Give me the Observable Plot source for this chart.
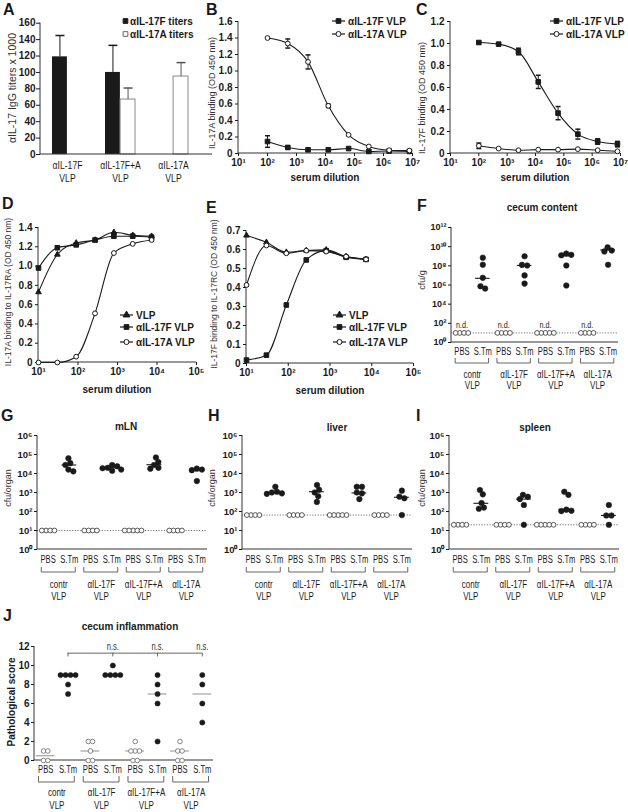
<!DOCTYPE html>
<html>
<head>
<meta charset="utf-8">
<script src="https://cdn.jsdelivr.net/npm/d3@7"></script>
<script src="https://cdn.jsdelivr.net/npm/@observablehq/plot@0.6"></script>
<style>
  body { margin: 0; background: #fff; }
  #root { position: relative; width: 628px; height: 812px; overflow: hidden; font-family: 'Liberation Sans', Arial, sans-serif; color: #1a1a1a; }
  .panel { position: absolute; }
  .panel svg { overflow: visible; }
  .lbl { position: absolute; white-space: nowrap; line-height: 1; }
  .letter { font-weight: bold; font-size: 16px; }
  .title { font-weight: bold; font-size: 10px; transform: translate(-50%, -50%); }
  .ylab { font-size: 9px; color: #333; transform: translate(-50%, -50%) rotate(-90deg); }
</style>
</head>
<body>
<div id="root"></div>
<script>
// ---------------- DATA ----------------
// A: anti-IL-17 IgG titers (x1000)
const titerGroups = ["αIL-17F", "αIL-17F+A", "αIL-17A"];
const titerSeries = ["αIL-17F titers", "αIL-17A titers"];
const titerF = [119, 100, null];
const titerFerr = [26, 33, null];
const titerA = [null, 67, 95];
const titerAerr = [null, 14, 17];

// B, C: ELISA binding vs serum dilution
const elisaDilution = [100, 500, 2500, 12500, 62500, 312500, 1562500, 7812500];
const elisaSeries = ["αIL-17F VLP", "αIL-17A VLP"];
const il17aBindF = [0.145, 0.073, 0.045, 0.045, 0.06, 0.025, 0.03, 0.025];
const il17aBindFerr = [0.07, 0.02, 0.01, 0.01, 0.01, 0.01, 0.01, 0.01];
const il17aBindA = [1.40, 1.333, 1.11, 0.578, 0.226, 0.085, 0.04, 0.035];
const il17aBindAerr = [0.01, 0.055, 0.085, 0.02, 0.01, 0.01, 0.01, 0.01];
const il17fBindF = [1.009, 0.994, 0.927, 0.651, 0.367, 0.176, 0.109, 0.085];
const il17fBindFerr = [0.01, 0.01, 0.03, 0.06, 0.06, 0.045, 0.025, 0.025];
const il17fBindA = [0.07, 0.045, 0.03, 0.035, 0.035, 0.04, 0.03, 0.02];
const il17fBindAerr = [0.025, 0.01, 0.01, 0.005, 0.005, 0.01, 0.005, 0.005];

// D, E: receptor-binding inhibition vs serum dilution
const inhibDilution = [10, 30, 90, 270, 810, 2430, 7290];
const inhibSeries = ["VLP", "αIL-17F VLP", "αIL-17A VLP"];
const raVLP = [0.73, 1.12, 1.24, 1.27, 1.35, 1.32, 1.31];
const raF = [0.98, 1.19, 1.22, 1.27, 1.31, 1.31, 1.30];
const raA = [0.0, 0.0, 0.06, 0.51, 1.135, 1.23, 1.27];
const rcVLP = [0.674, 0.638, 0.586, 0.595, 0.598, 0.563, 0.548];
const rcF = [0.018, 0.044, 0.308, 0.545, 0.594, 0.559, 0.548];
const rcA = [0.413, 0.621, 0.58, 0.594, 0.589, 0.563, 0.548];

// F-J: infection experiments
const vlpGroups = ["contr", "αIL-17F", "αIL-17F+A", "αIL-17A"];
const vlpSuffix = "VLP";
const treatments = ["PBS", "S.Tm"];

// F cecum content (cfu/g); PBS not detected (plotted at detection limit)
const cecumLimit = 10;
const cecumPBS = [[10, 10, 10, 10], [10, 10, 10, 10], [10, 10, 10, 10, 10], [10, 10, 10, 10]];
const cecumSTm = [[7.1e8, 1.3e8, 5.6e6, 7.4e5, 4.3e5], [1e9, 1.25e8, 1.1e8, 1e7, 1.4e6], [1.9e9, 1.4e9, 1.25e9, 1.1e8, 9e5], [8.5e9, 4e9, 3.2e9, 1.3e8]];
const cecumMed = [5e6, 1.1e8, 1.1e9, 4.5e9];

// G mLN (cfu/organ)
const mlnLimit = 10;
const mlnPBS = [[10, 10, 10, 10], [10, 10, 10, 10], [10, 10, 10, 10, 10], [10, 10, 10, 10]];
const mlnSTm = [[6.3e4, 3.5e4, 2.8e4, 1.6e4, 1.3e4], [2.8e4, 2.4e4, 2e4, 1.9e4, 1.6e4, 1.4e4], [7e4, 4e4, 2.8e4, 2e4, 1.8e4], [1.8e4, 1.6e4, 1.5e4, 4e3]];
const mlnMed = [2.8e4, 2e4, 2.9e4, 1.5e4];

// H liver (cfu/organ)
const liverLimit = 65;
const liverPBS = [[65, 65, 65, 65], [65, 65, 65, 65], [65, 65, 65, 65, 65], [65, 65, 65, 65]];
const liverSTm = [[2000, 1100, 1000, 900, 850], [2500, 1400, 1000, 630, 320], [2000, 2000, 1000, 900, 450], [1250, 600, 500, 65]];
const liverMed = [950, 1100, 950, 560];

// I spleen (cfu/organ)
const spleenLimit = 20;
const spleenPBS = [[20, 20, 20, 20], [20, 20, 20, 20], [20, 20, 20, 20, 20], [20, 20, 20, 20]];
const spleenSTm = [[1350, 800, 280, 160, 140], [750, 600, 450, 220, 20], [1100, 750, 125, 110, 105], [220, 62, 62, 20]];
const spleenMed = [270, 450, 130, 62];

// J cecum inflammation (pathological score)
const scorePBS = [[1, 1, 0, 0], [2, 2, 1, 0, 0], [2, 1, 1, 1, 0, 0], [2, 1, 1, 0, 0]];
const scorePBSMed = [0.5, 1, 1, 1];
const scoreSTm = [[9, 9, 9, 9, 8, 7], [10, 9, 9, 9, 9], [9, 8, 7, 6, 2], [9, 8, 6, 4]];
const scoreSTmMed = [9, 9, 7, 7];
const sigRefGroup = "contr";
const sigCompared = ["αIL-17F", "αIL-17F+A", "αIL-17A"];
const sigLabels = ["n.s.", "n.s.", "n.s."];
const sigLevel = 11.3;

// ---------------- STYLE / HELPERS ----------------
const FONT = "'Liberation Sans', Arial, sans-serif";
const INK = "#1a1a1a";
const AX = "#333";
const baseStyle = {fontFamily: FONT, fontSize: "10px", background: "transparent", overflow: "visible", color: INK};
const SUP = "⁰¹²³⁴⁵⁶⁷⁸⁹";
const pow10 = d => "10" + String(Math.round(Math.log10(d))).split("").map(c => SUP[+c]).join("");
const dec1 = d => (Math.abs(d) < 1e-9 ? "0" : d.toFixed(1));
const capSymbol = {draw(ctx, size) { const w = Math.sqrt(size / Math.PI); ctx.moveTo(-w, 0); ctx.lineTo(w, 0); }};

const root = document.getElementById("root");

function place(svg, lay) {
  const d = document.createElement("div");
  d.className = "panel";
  d.style.left = lay.left + "px";
  d.style.top = lay.top + "px";
  d.appendChild(svg);
  root.appendChild(d);
}
// horizontally condense labels whose text is in `words` (the figure uses a condensed face)
function condense(svg, words, f) {
  const set = new Set(words);
  svg.querySelectorAll("text").forEach(el => {
    if (el.querySelector("tspan") || !set.has(el.textContent)) return;
    const len = el.getComputedTextLength();
    if (len > 0) {
      el.setAttribute("textLength", (len * f).toFixed(2));
      el.setAttribute("lengthAdjust", "spacingAndGlyphs");
    }
  });
}
function label(txt, x, y, cls, extra) {
  const d = document.createElement("div");
  d.className = "lbl " + cls;
  d.textContent = txt;
  d.style.left = x + "px";
  d.style.top = y + "px";
  if (extra) Object.assign(d.style, extra);
  root.appendChild(d);
}

// L-shaped axis lines along the frame's left and bottom edges
const axisLines = (index, scales, values, dims) => {
  const {width, height, marginLeft, marginRight, marginTop, marginBottom} = dims;
  const g = d3.create("svg:g").attr("fill", "none").attr("stroke", AX).attr("stroke-width", 1);
  g.append("path").attr("d", `M${marginLeft},${marginTop}V${height - marginBottom}H${width - marginRight}`);
  return g.node();
};

const symbolTypes = {square: d3.symbolSquare, circle: d3.symbolCircle, triangle: d3.symbolTriangle};
function legendMark(entries, x0, ys, withLine) {
  return () => {
    const g = d3.create("svg:g").attr("font-family", FONT).attr("font-size", 10).attr("font-weight", "bold").attr("text-anchor", "start");
    entries.forEach((e, k) => {
      const y = ys[k];
      const sx = withLine ? x0 + 6.5 : x0 + 2.5;
      if (withLine) g.append("line").attr("x1", x0).attr("x2", x0 + 13).attr("y1", y).attr("y2", y).attr("stroke", INK).attr("stroke-width", 1.2);
      const size = e.symbol === "square" ? 22 : 20;
      g.append("path").attr("transform", `translate(${sx},${y})`)
        .attr("d", d3.symbol(symbolTypes[e.symbol], size)())
        .attr("fill", e.fill).attr("stroke", e.stroke).attr("stroke-width", 1);
      g.append("text").attr("x", withLine ? x0 + 16 : x0 + 7).attr("y", y).attr("dy", "0.36em").attr("text-anchor", "start").attr("fill", INK).text(e.label);
    });
    return g.node();
  };
}

// ---------------- LAYOUT ----------------
const LAY = {
  A: {left: 0, top: 0, width: 215, height: 190, mL: 40, mR: 3, mT: 22.7, mB: 36},
  B: {left: 205, top: 0, width: 215, height: 190, mL: 33, mR: 8, mT: 21, mB: 37},
  C: {left: 415, top: 0, width: 213, height: 190, mL: 35, mR: 8, mT: 21, mB: 37},
  D: {left: 0, top: 190, width: 210, height: 210, mL: 38, mR: 14, mT: 37, mB: 38},
  E: {left: 205, top: 190, width: 215, height: 210, mL: 41, mR: 7, mT: 40, mB: 37},
  F: {left: 415, top: 195, width: 213, height: 205, mL: 36, mR: 10, mT: 32, mB: 58},
  G: {left: 0, top: 400, width: 215, height: 205, mL: 37, mR: 8, mT: 35, mB: 56},
  H: {left: 205, top: 400, width: 215, height: 205, mL: 37, mR: 8, mT: 35, mB: 56},
  I: {left: 415, top: 400, width: 213, height: 205, mL: 34, mR: 9, mT: 35, mB: 56},
  J: {left: 0, top: 600, width: 320, height: 212, mL: 34, mR: 107, mT: 46, mB: 52}
};
const dimsOf = lay => ({width: lay.width, height: lay.height, marginLeft: lay.mL, marginRight: lay.mR, marginTop: lay.mT, marginBottom: lay.mB});

// ---------------- PANEL A ----------------
(function () {
  const lay = LAY.A;
  const rowsF = titerGroups.map((g, i) => ({group: g, value: titerF[i], err: titerFerr[i]})).filter(d => d.value != null);
  const rowsA = titerGroups.map((g, i) => ({group: g, value: titerA[i], err: titerAerr[i]})).filter(d => d.value != null);
  const half = 15.1, off = 7.55;
  const svg = Plot.plot({
    ...dimsOf(lay), style: baseStyle,
    x: {domain: titerGroups, paddingInner: 0.43, paddingOuter: 0.3375, align: 0.335, axis: null},
    y: {domain: [0, 160]},
    marks: [
      Plot.barY(rowsF, {x: "group", y: "value", fill: INK, insetRight: half}),
      Plot.barY(rowsA, {x: "group", y: "value", fill: "white", stroke: "#888", strokeWidth: 1, insetLeft: half}),
      Plot.ruleX(rowsF, {x: "group", y1: "value", y2: d => d.value + d.err, dx: -off, stroke: INK}),
      Plot.dot(rowsF, {x: "group", y: d => d.value + d.err, dx: -off, symbol: capSymbol, r: 4.5, stroke: INK, fill: "none"}),
      Plot.ruleX(rowsA, {x: "group", y1: "value", y2: d => d.value + d.err, dx: off, stroke: "#555"}),
      Plot.dot(rowsA, {x: "group", y: d => d.value + d.err, dx: off, symbol: capSymbol, r: 4.5, stroke: "#555", fill: "none"}),
      axisLines,
      Plot.axisY({ticks: d3.range(0, 161, 20), tickSize: 4, tickPadding: 1, fontWeight: "bold", fontSize: 10, label: null}),
      Plot.text(titerGroups, {x: d => d, text: d => d, frameAnchor: "bottom", lineAnchor: "middle", dy: 11, fontSize: 10, fill: INK}),
      Plot.text(titerGroups, {x: d => d, text: () => vlpSuffix, frameAnchor: "bottom", lineAnchor: "middle", dy: 24, fontSize: 10, fill: INK}),
      legendMark([
        {label: titerSeries[0], symbol: "square", fill: INK, stroke: INK},
        {label: titerSeries[1], symbol: "square", fill: "white", stroke: "#666"}
      ], 123, [21, 34], false)
    ]
  });
  place(svg, lay);
  condense(svg, [...titerGroups, vlpSuffix], 0.86);
})();

// ---------------- CURVE PANELS (B-E) ----------------
function curvePanel(lay, o) {
  const rows = [];
  o.series.forEach(s => s.y.forEach((v, i) => rows.push({name: s.name, x: o.xs[i], y: v, err: s.err ? s.err[i] : 0})));
  const errRows = rows.filter(d => d.err > 0.012);
  const marks = [
    axisLines,
    Plot.axisX({ticks: o.xTicks, tickFormat: pow10, tickSize: 3, tickPadding: 2, fontWeight: "bold", fontSize: 10, label: null}),
    Plot.axisY({ticks: o.yTicks, tickFormat: dec1, tickSize: 3, tickPadding: 3, fontWeight: "bold", fontSize: 10, label: null}),
    Plot.ruleX(errRows, {x: "x", y1: d => d.y - d.err, y2: d => d.y + d.err, stroke: INK}),
    Plot.dot(errRows, {x: "x", y: d => d.y + d.err, symbol: capSymbol, r: 2.5, stroke: INK, fill: "none"}),
    Plot.dot(errRows, {x: "x", y: d => d.y - d.err, symbol: capSymbol, r: 2.5, stroke: INK, fill: "none"}),
    Plot.line(rows, {x: "x", y: "y", z: "name", curve: "monotone-x", stroke: INK, strokeWidth: 1.1})
  ];
  o.series.forEach(s => {
    marks.push(Plot.dot(rows.filter(d => d.name === s.name), {
      x: "x", y: "y", symbol: s.symbol, r: s.symbol === "square" ? 2.6 : s.symbol === "triangle" ? 2.1 : 2.4,
      fill: s.fill, stroke: INK, strokeWidth: 1
    }));
  });
  marks.push(legendMark(o.series.map(s => ({label: s.name, symbol: s.symbol, fill: s.fill, stroke: INK})), o.legX, o.legY, true));
  const svg = Plot.plot({
    ...dimsOf(lay), style: baseStyle,
    x: {type: "log", domain: o.xDomain},
    y: {domain: o.yDomain},
    marks
  });
  place(svg, lay);
}
const elisaTicks = [10, 100, 1e3, 1e4, 1e5, 1e6, 1e7];
curvePanel(LAY.B, {
  xs: elisaDilution, xDomain: [10, 1e7], xTicks: elisaTicks, yDomain: [0, 1.6], yTicks: d3.range(0, 1.61, 0.2),
  series: [
    {name: elisaSeries[0], y: il17aBindF, err: il17aBindFerr, symbol: "square", fill: INK},
    {name: elisaSeries[1], y: il17aBindA, err: il17aBindAerr, symbol: "circle", fill: "white"}
  ],
  legX: 127, legY: [21, 34]
});
curvePanel(LAY.C, {
  xs: elisaDilution, xDomain: [10, 1e7], xTicks: elisaTicks, yDomain: [0, 1.2], yTicks: d3.range(0, 1.21, 0.2),
  series: [
    {name: elisaSeries[0], y: il17fBindF, err: il17fBindFerr, symbol: "square", fill: INK},
    {name: elisaSeries[1], y: il17fBindA, err: il17fBindAerr, symbol: "circle", fill: "white"}
  ],
  legX: 135, legY: [21, 34]
});
const inhibTicks = [10, 100, 1e3, 1e4, 1e5];
curvePanel(LAY.D, {
  xs: inhibDilution, xDomain: [10, 1e5], xTicks: inhibTicks, yDomain: [0, 1.4], yTicks: d3.range(0, 1.41, 0.2),
  series: [
    {name: inhibSeries[0], y: raVLP, symbol: "triangle", fill: INK},
    {name: inhibSeries[1], y: raF, symbol: "square", fill: INK},
    {name: inhibSeries[2], y: raA, symbol: "circle", fill: "white"}
  ],
  legX: 120, legY: [125, 137, 152]
});
curvePanel(LAY.E, {
  xs: inhibDilution, xDomain: [10, 1e5], xTicks: inhibTicks, yDomain: [0, 0.7], yTicks: d3.range(0, 0.71, 0.1),
  series: [
    {name: inhibSeries[0], y: rcVLP, symbol: "triangle", fill: INK},
    {name: inhibSeries[1], y: rcF, symbol: "square", fill: INK},
    {name: inhibSeries[2], y: rcA, symbol: "circle", fill: "white"}
  ],
  legX: 128, legY: [125, 137, 152]
});

// ---------------- SCATTER PANELS (F-J) ----------------
function dodgeOffsets(vals, ypx, D) {
  const pts = vals.map((v, i) => ({i, y: ypx(v), x: 0}));
  const order = pts.slice().sort((a, b) => a.y - b.y);
  const placed = [];
  for (const p of order) {
    const iv = [];
    for (const q of placed) {
      const dy = Math.abs(p.y - q.y);
      if (dy < D) { const w = Math.sqrt(D * D - dy * dy); iv.push([q.x - w, q.x + w]); }
    }
    const cands = [0];
    for (const [a, b] of iv) cands.push(a, b);
    cands.sort((a, b) => Math.abs(a) - Math.abs(b) || b - a);
    p.x = cands.find(c => iv.every(([a, b]) => c <= a + 1e-6 || c >= b - 1e-6));
    placed.push(p);
  }
  let cluster = [];
  const flush = () => {
    if (cluster.length) {
      const c = (d3.min(cluster, p => p.x) + d3.max(cluster, p => p.x)) / 2;
      cluster.forEach(p => (p.x -= c));
    }
    cluster = [];
  };
  order.forEach((p, k) => {
    if (k > 0 && p.y - order[k - 1].y >= D) flush();
    cluster.push(p);
  });
  flush();
  return pts.map(p => p.x);
}

function scatterPanel(lay, o) {
  const fw = lay.width - lay.mL - lay.mR, fh = lay.height - lay.mT - lay.mB;
  const ypx = (o.log ? d3.scaleLog() : d3.scaleLinear()).domain(o.yDomain).range([fh, 0]);
  const step = fw / 8;
  const pbsRows = [], stmRows = [], medRows = [];
  vlpGroups.forEach((g, gi) => {
    const pOff = dodgeOffsets(o.pbs[gi], ypx, o.dPbs);
    o.pbs[gi].forEach((v, k) => pbsRows.push({idx: 2 * gi, v, xv: 2 * gi + pOff[k] / step}));
    const sOff = dodgeOffsets(o.stm[gi], ypx, o.dStm);
    o.stm[gi].forEach((v, k) => stmRows.push({idx: 2 * gi + 1, v, xv: 2 * gi + 1 + sOff[k] / step}));
    if (o.stmMed) medRows.push({idx: 2 * gi + 1, v: o.stmMed[gi]});
    if (o.pbsMed) medRows.push({idx: 2 * gi, v: o.pbsMed[gi]});
  });
  const groupRows = vlpGroups.map((g, i) => ({g, c: 2 * i + 0.5, a: 2 * i, b: 2 * i + 1}));
  const brackets = (index, scales, values, dims) => {
    const yb = dims.height - dims.marginBottom;
    const g = d3.create("svg:g").attr("fill", "none").attr("stroke", "#555").attr("stroke-width", 0.9);
    groupRows.forEach(r => {
      const xa = scales.x(r.a - 0.3), xb = scales.x(r.b + 0.3);
      g.append("path").attr("d", `M${xa},${yb + o.brTop}V${yb + o.brBot}H${xb}V${yb + o.brTop}`);
    });
    return g.node();
  };
  const marks = [];
  if (o.limit != null) marks.push(Plot.ruleY([o.limit], {stroke: "#777", strokeDasharray: "1.2,1.5", strokeWidth: 1}));
  marks.push(
    axisLines,
    Plot.axisY({ticks: o.yTicks, tickFormat: o.yFormat, tickSize: 3, tickPadding: 2, fontWeight: "bold", fontSize: o.yFont || 9.5, label: null}),
    Plot.axisX({ticks: d3.range(8), tickFormat: i => treatments[i % 2], tickSize: 0, tickPadding: o.xPad, fontSize: 10, label: null}),
    brackets,
    Plot.text(groupRows, {x: "c", frameAnchor: "bottom", lineAnchor: "middle", dy: o.grpDy1, text: "g", fontSize: 10, fill: INK}),
    Plot.text(groupRows, {x: "c", frameAnchor: "bottom", lineAnchor: "middle", dy: o.grpDy2, text: () => vlpSuffix, fontSize: 10, fill: INK}),
    Plot.ruleY(medRows, {y: "v", x1: d => d.idx - o.medHalf, x2: d => d.idx + o.medHalf, stroke: o.medColor, strokeWidth: 1.1}),
    Plot.dot(pbsRows, {x: "xv", y: "v", r: o.rPbs, fill: "white", stroke: o.openStroke, strokeWidth: 0.9}),
    Plot.dot(stmRows, {x: "xv", y: "v", r: o.rStm, fill: INK, stroke: INK, strokeWidth: 0.5})
  );
  if (o.nd) {
    marks.push(Plot.text(groupRows, {x: "a", y: () => o.limit, dy: -8, text: () => "n.d.", fontSize: 9.5, fill: "#222"}));
  }
  if (o.extra) marks.push(...o.extra);
  const svg = Plot.plot({
    ...dimsOf(lay), style: baseStyle,
    x: {type: "linear", domain: [-0.5, 7.5]},
    y: {type: o.log ? "log" : "linear", domain: o.yDomain},
    marks
  });
  place(svg, lay);
  condense(svg, [...treatments, "n.d.", ...sigLabels], 0.76);
  condense(svg, [...vlpGroups, vlpSuffix], 0.8);
}

const logCommon = {log: true, yFormat: pow10, dPbs: 4.2, dStm: 5.2, rPbs: 2.4, rStm: 2.8, medHalf: 0.35, medColor: INK, openStroke: "#444"};
scatterPanel(LAY.F, {
  ...logCommon, yDomain: [1, 1e12], yTicks: [1, 1e2, 1e4, 1e6, 1e8, 1e10, 1e12], yFont: 9,
  pbs: cecumPBS, stm: cecumSTm, stmMed: cecumMed, limit: cecumLimit, nd: true,
  xPad: 5.5, brTop: 16, brBot: 21, grpDy1: 32, grpDy2: 43
});
const organTicks = [1, 10, 100, 1e3, 1e4, 1e5, 1e6];
const organLayout = {xPad: 6.5, brTop: 18, brBot: 23, grpDy1: 35, grpDy2: 47};
scatterPanel(LAY.G, {...logCommon, ...organLayout, yDomain: [1, 1e6], yTicks: organTicks, pbs: mlnPBS, stm: mlnSTm, stmMed: mlnMed, limit: mlnLimit});
scatterPanel(LAY.H, {...logCommon, ...organLayout, yDomain: [1, 1e6], yTicks: organTicks, pbs: liverPBS, stm: liverSTm, stmMed: liverMed, limit: liverLimit});
scatterPanel(LAY.I, {...logCommon, ...organLayout, yDomain: [1, 1e6], yTicks: organTicks, pbs: spleenPBS, stm: spleenSTm, stmMed: spleenMed, limit: spleenLimit});

// J with significance bracket
(function () {
  const refIdx = vlpGroups.indexOf(sigRefGroup) * 2 + 1;
  const sigRows = sigCompared.map((g, k) => ({idx: vlpGroups.indexOf(g) * 2 + 1, text: sigLabels[k]}));
  const tickRows = [{idx: refIdx}, ...sigRows];
  const extra = [
    Plot.ruleY([sigLevel], {x1: refIdx, x2: d3.max(sigRows, d => d.idx), stroke: "#555", strokeWidth: 0.9}),
    Plot.ruleX(tickRows, {x: "idx", y1: sigLevel, y2: sigLevel - 0.4, stroke: "#555", strokeWidth: 0.9}),
    Plot.text(sigRows, {x: "idx", y: sigLevel, dy: -6, text: "text", fontSize: 10, fill: "#333"})
  ];
  scatterPanel(LAY.J, {
    log: false, yDomain: [0, 12], yTicks: d3.range(0, 13, 2), yFormat: d => String(d), yFont: 10,
    pbs: scorePBS, stm: scoreSTm, stmMed: scoreSTmMed, pbsMed: scorePBSMed, limit: null,
    dPbs: 4.3, dStm: 5.0, rPbs: 2.3, rStm: 2.6, medHalf: 0.42, medColor: "#999", openStroke: "#777",
    xPad: 5.5, brTop: 16, brBot: 22, grpDy1: 32, grpDy2: 45, extra
  });
})();

// ---------------- HTML TEXT ----------------
[["A", 3, 2], ["B", 206, 2], ["C", 416, 2], ["D", 2, 196], ["E", 206, 200], ["F", 417, 198], ["G", 1, 408], ["H", 208, 408], ["I", 416, 408], ["J", 3, 608]]
  .forEach(([t, x, y]) => label(t, x, y, "letter"));
[["cecum content", 542, 208], ["mLN", 126, 427], ["liver", 337, 428], ["spleen", 535, 428], ["cecum inflammation", 130, 627],
 ["serum dilution", 325, 178], ["serum dilution", 535, 178], ["serum dilution", 117, 390], ["serum dilution", 330, 391]]
  .forEach(([t, x, y]) => label(t, x, y, "title"));
label("αIL-17 IgG titers x 1000", 12, 88, "ylab", {fontSize: "10.5px"});
label("IL-17A binding (OD 450 nm)", 212, 93, "ylab");
label("IL-17F binding (OD 450 nm)", 422, 98, "ylab");
label("IL-17A binding to IL-17RA (OD 450 nm)", 8, 292, "ylab", {fontSize: "8.5px"});
label("IL-17F binding to IL-17RC (OD 450 nm)", 214, 294, "ylab", {fontSize: "8.5px"});
label("cfu/g", 422, 280, "ylab");
label("cfu/organ", 8, 488, "ylab");
label("cfu/organ", 212, 488, "ylab");
label("cfu/organ", 422, 488, "ylab");
label("Pathological score", 12, 702, "ylab", {fontSize: "10px", fontWeight: "bold", color: "#1a1a1a"});
</script>
</body>
</html>
